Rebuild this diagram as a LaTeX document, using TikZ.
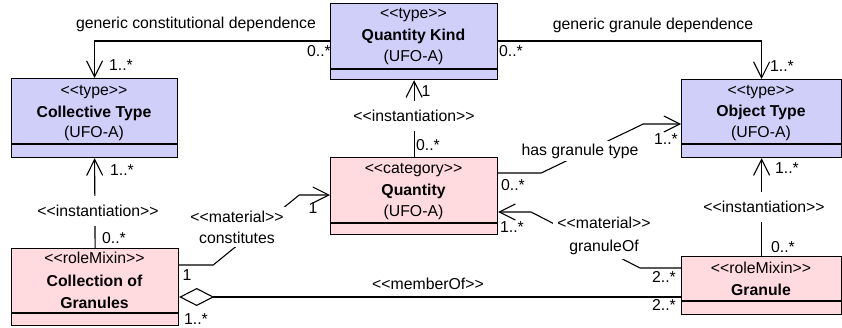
\documentclass[tikz,border=0pt]{standalone}
\usepackage{fontspec}
\setmainfont{Liberation Sans}[Ligatures=TeXOff]
\usetikzlibrary{arrows.meta}
\definecolor{typeblue}{RGB}{207,207,250}
\definecolor{rolepink}{RGB}{255,218,222}
\begin{document}
\begin{tikzpicture}[x=1pt,y=-1pt,
  classbox/.style={draw, line width=1.2pt, inner sep=0pt, anchor=north west},
  typebox/.style={classbox, fill=typeblue},
  rolebox/.style={classbox, fill=rolepink},
  divider/.style={line width=1.2pt},
  txt/.style={font=\fontsize{15.8}{18}\selectfont, inner sep=0pt},
  title/.style={font=\fontsize{15.8}{18}\selectfont\bfseries, inner sep=0pt},
  assoc/.style={line width=1.1pt},
  nav/.style={assoc, -{Straight Barb[length=16pt,width=16pt]}},
  agg/.style={assoc, {Diamond[open,length=35pt,width=18pt]}-},
  lbl/.style={txt, fill=white, inner sep=3pt},
  mult/.style={txt}]
\useasboundingbox (0,0) rectangle (842,327);

% ---- classes ----
\node[typebox, minimum width=167pt, minimum height=76pt] (qk) at (330,3) {};
\draw[divider] (qk.west |- 0,69) -- (qk.east |- 0,69);
\node[txt]   (qk1) at (413.5,15) {<<type>>};
\node[title] (qk2) at (413.5,36) {Quantity Kind};
\node[txt]   (qk3) at (413.5,57) {(UFO-A)};

\node[typebox, minimum width=166pt, minimum height=79pt] (ct) at (11,78) {};
\draw[divider] (ct.west |- 0,144) -- (ct.east |- 0,144);
\node[txt]   (ct1) at (94,92) {<<type>>};
\node[title] (ct2) at (94,113) {Collective Type};
\node[txt]   (ct3) at (94,133) {(UFO-A)};

\node[typebox, minimum width=160pt, minimum height=78pt] (ot) at (681,79) {};
\draw[divider] (ot.west |- 0,144) -- (ot.east |- 0,144);
\node[txt]   (ot1) at (761,92) {<<type>>};
\node[title] (ot2) at (761,112) {Object Type};
\node[txt]   (ot3) at (761,133) {(UFO-A)};

\node[rolebox, minimum width=167pt, minimum height=77pt] (q) at (330,157) {};
\draw[divider] (q.west |- 0,223) -- (q.east |- 0,223);
\node[txt]   (q1) at (413.5,170) {<<category>>};
\node[title] (q2) at (413.5,191) {Quantity};
\node[txt]   (q3) at (413.5,212) {(UFO-A)};

\node[rolebox, minimum width=167pt, minimum height=77pt] (cog) at (11,248) {};
\draw[divider] (cog.west |- 0,313) -- (cog.east |- 0,313);
\node[txt]   (cog1) at (94.5,258) {<<roleMixin>>};
\node[title] (cog2) at (94.5,281) {Collection of};
\node[title] (cog3) at (94.5,303) {Granules};

\node[rolebox, minimum width=160pt, minimum height=58pt] (g) at (681,256) {};
\draw[divider] (g.west |- 0,301) -- (g.east |- 0,301);
\node[txt]   (g1) at (761,268) {<<roleMixin>>};
\node[title] (g2) at (761,290) {Granule};

% ---- associations ----
\draw[nav] (qk.west |- 0,41) -| (ct.north);
\draw[nav] (qk.east |- 0,41) -| (ot.north);
\draw[nav] (q.north) -- (qk.south);
\draw[nav] (cog.north) -- (ct.south);
\draw[nav] (g.north) -- (ot.south);
\draw[nav] (q.east |- 0,173) -- ++(43,0) -- ++(102,-49) -- (ot.west |- 0,124);
\draw[nav] (g.west |- 0,268) -- ++(-41,0) -- ++(-109,-56) -- (q.east |- 0,212);
\draw[nav] (cog.east |- 0,265) -- ++(34,0) -- ++(86,-70) -- (q.west |- 0,195);
\draw[agg] (cog.east |- 0,297) -- (g.west |- 0,297);

% ---- association names ----
\node[txt] (gcd) at (196,24) {generic constitutional dependence};
\node[txt] (ggd) at (653,25) {generic granule dependence};
\node[lbl, inner ysep=9pt] (inst1) at (414,116) {<<instantiation>>};
\node[lbl, inner ysep=9pt] (inst2) at (98,211) {<<instantiation>>};
\node[lbl, inner ysep=9pt] (inst3) at (764,207) {<<instantiation>>};
\node[lbl] (hgt) at (580,151) {has granule type};
\node[lbl, inner sep=4pt, align=center, font=\fontsize{15.8}{22.5}\selectfont] (gof) at (604,236) {<<material>>\\granuleOf};
\node[lbl, inner sep=4pt, align=center, font=\fontsize{15.8}{21}\selectfont] (cons) at (237,227) {<<material>>\\constitutes};
\node[txt] (mem) at (428,284) {<<memberOf>>};

% ---- multiplicities ----
\node[mult] (m1) at (319,51) {0..*};
\node[mult] (m2) at (121,65) {1..*};
\node[mult] (m3) at (511,51) {0..*};
\node[mult] (m4) at (782,66) {1..*};
\node[mult] (m5) at (426,91) {1};
\node[mult] (m6) at (428,145) {0..*};
\node[mult] (m7) at (122,170) {1..*};
\node[mult] (m8) at (114,238) {0..*};
\node[mult] (m9) at (787,168) {1..*};
\node[mult] (m10) at (783,247) {0..*};
\node[mult] (m11) at (666,139) {1..*};
\node[mult] (m12) at (513,185) {0..*};
\node[mult] (m13) at (512,227) {1..*};
\node[mult] (m14) at (664,277) {2..*};
\node[mult] (m15) at (664,305) {2..*};
\node[mult] (m16) at (313,208) {1};
\node[mult] (m17) at (187,275) {1};
\node[mult] (m18) at (196,319) {1..*};
\end{tikzpicture}
\end{document}
